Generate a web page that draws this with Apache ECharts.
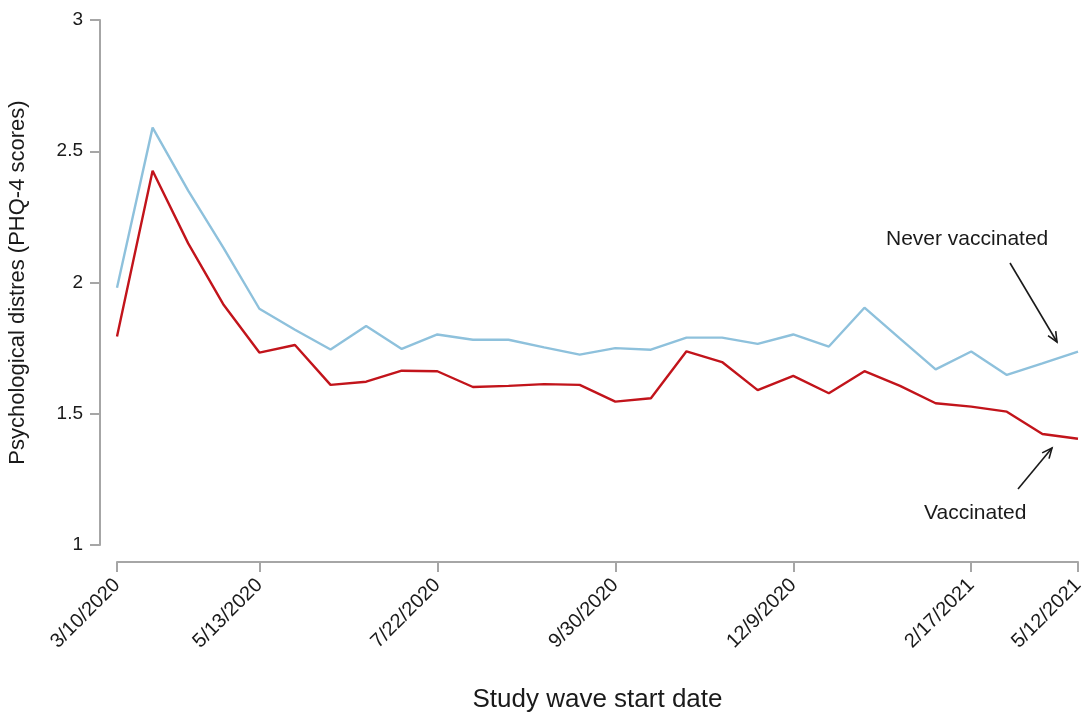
<!DOCTYPE html>
<html>
<head>
<meta charset="utf-8">
<title>Psychological distress by vaccination status</title>
<script src="https://cdn.jsdelivr.net/npm/echarts@6/dist/echarts.min.js"></script>
<style>
  html, body { margin: 0; padding: 0; background: #ffffff; }
  #chart { width: 1082px; height: 716px; }
</style>
</head>
<body>
<div id="chart"></div>
<script>
// Study wave start dates (one category per wave)
const waveDates = [
  '3/10/2020', '4/1/2020', '4/15/2020', '4/29/2020', '5/13/2020',
  '5/27/2020', '6/10/2020', '6/24/2020', '7/8/2020', '7/22/2020',
  '8/5/2020', '8/19/2020', '9/2/2020', '9/16/2020', '9/30/2020',
  '10/14/2020', '10/28/2020', '11/11/2020', '11/25/2020', '12/9/2020',
  '12/23/2020', '1/6/2021', '1/20/2021', '2/3/2021', '2/17/2021',
  '3/17/2021', '4/14/2021', '5/12/2021'
];

// Waves whose dates are printed on the axis
const labelledWaves = [0, 4, 9, 14, 19, 24, 27];

// Mean PHQ-4 scores per wave
const neverVaccinated = [
  1.98, 2.59, 2.35, 2.13, 1.90, 1.82, 1.745, 1.834, 1.747, 1.802,
  1.782, 1.782, 1.753, 1.725, 1.750, 1.744, 1.790, 1.790, 1.766, 1.802,
  1.756, 1.904, 1.786, 1.669, 1.737, 1.648, 1.692, 1.737
];
const vaccinated = [
  1.794, 2.426, 2.149, 1.914, 1.733, 1.762, 1.610, 1.622, 1.664, 1.662,
  1.602, 1.606, 1.613, 1.610, 1.546, 1.559, 1.738, 1.697, 1.590, 1.644,
  1.578, 1.662, 1.606, 1.540, 1.527, 1.508, 1.423, 1.405
];

const yTicks = { min: 1, max: 3, step: 0.5 };

const FONT = '"Liberation Sans", Arial, sans-serif';
const AXIS_GREY = '#a6a6a6';
const INK = '#1a1a1a';

const chart = echarts.init(document.getElementById('chart'), null, { renderer: 'canvas' });

const showWave = (idx) => labelledWaves.indexOf(idx) !== -1;

// Open arrow (shaft + V head) ending at (x2, y2)
function arrow(x1, y1, x2, y2) {
  const dx = x2 - x1, dy = y2 - y1;
  const len = Math.sqrt(dx * dx + dy * dy);
  const ux = dx / len, uy = dy / len;
  const headLen = 11, spread = 0.42;
  const cos = Math.cos(spread), sin = Math.sin(spread);
  const lx = x2 - headLen * (ux * cos - uy * sin);
  const ly = y2 - headLen * (uy * cos + ux * sin);
  const rx = x2 - headLen * (ux * cos + uy * sin);
  const ry = y2 - headLen * (uy * cos - ux * sin);
  const style = { stroke: INK, lineWidth: 1.6, fill: null };
  return [
    { type: 'line', shape: { x1: x1, y1: y1, x2: x2, y2: y2 }, style: style, z: 10 },
    { type: 'polyline', shape: { points: [[lx, ly], [x2, y2], [rx, ry]] }, style: style, z: 10 }
  ];
}

const option = {
  backgroundColor: '#ffffff',
  animation: false,
  grid: { left: 117, right: 4, top: 20, bottom: 171, containLabel: false, outerBoundsMode: 'none' },
  xAxis: {
    type: 'category',
    data: waveDates,
    boundaryGap: false,
    offset: 17,
    name: 'Study wave start date',
    nameLocation: 'middle',
    nameGap: 125,
    nameTextStyle: { fontFamily: FONT, fontSize: 26, color: INK },
    axisLine: { show: true, lineStyle: { color: AXIS_GREY, width: 2 } },
    axisTick: { show: true, length: 10, interval: showWave, lineStyle: { color: AXIS_GREY, width: 2 } },
    axisLabel: {
      interval: showWave,
      rotate: 45,
      margin: 20,
      fontFamily: FONT,
      fontSize: 20,
      color: INK
    },
    splitLine: { show: false }
  },
  yAxis: {
    type: 'value',
    min: yTicks.min,
    max: yTicks.max,
    interval: yTicks.step,
    offset: 17,
    name: 'Psychological distres (PHQ-4 scores)',
    nameLocation: 'middle',
    nameGap: 71,
    nameTextStyle: { fontFamily: FONT, fontSize: 22, color: INK },
    axisLine: { show: true, lineStyle: { color: AXIS_GREY, width: 2 } },
    axisTick: { show: true, length: 10, lineStyle: { color: AXIS_GREY, width: 2 } },
    axisLabel: { margin: 17, fontFamily: FONT, fontSize: 19, color: INK },
    splitLine: { show: false }
  },
  series: [
    {
      name: 'Never vaccinated',
      type: 'line',
      data: neverVaccinated,
      showSymbol: false,
      symbol: 'none',
      lineStyle: { color: '#8ec1dc', width: 2.4 },
      itemStyle: { color: '#8ec1dc' },
      z: 3
    },
    {
      name: 'Vaccinated',
      type: 'line',
      data: vaccinated,
      showSymbol: false,
      symbol: 'none',
      lineStyle: { color: '#c2141b', width: 2.4 },
      itemStyle: { color: '#c2141b' },
      z: 4
    }
  ]
};

chart.setOption(option);

// Series annotations with pointing arrows
chart.setOption({
  graphic: [
    {
      type: 'text', left: 886, top: 229, z: 10,
      style: { text: 'Never vaccinated', font: '21px ' + FONT, fill: INK }
    },
    {
      type: 'text', left: 924, top: 503, z: 10,
      style: { text: 'Vaccinated', font: '21px ' + FONT, fill: INK }
    }
  ].concat(arrow(1010, 263, 1057, 342), arrow(1018, 489, 1052, 448))
});
</script>
</body>
</html>
